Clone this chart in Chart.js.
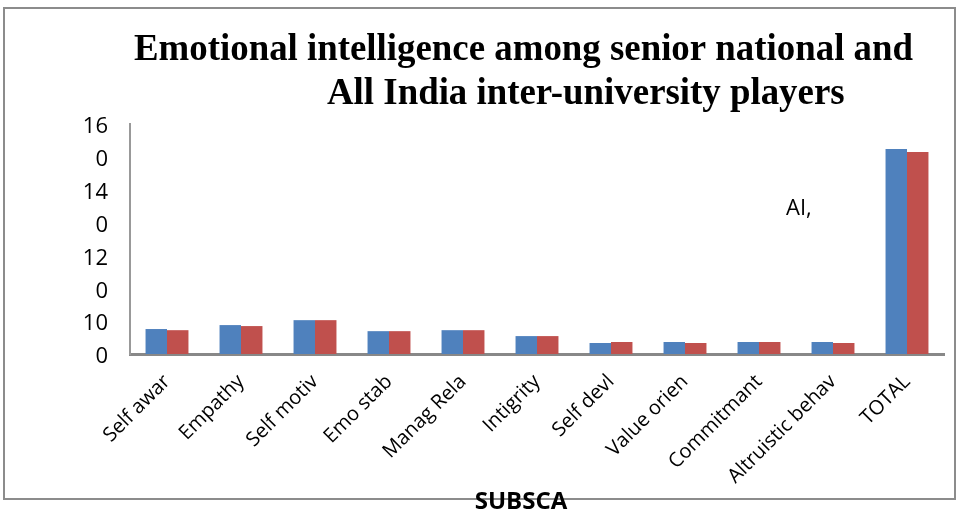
<!DOCTYPE html>
<html>
<head>
<meta charset="utf-8">
<script src="https://cdn.jsdelivr.net/npm/chart.js@4.4.0/dist/chart.umd.min.js"></script>
<style>
  html, body { margin: 0; padding: 0; background: #ffffff; }
  #wrap { width: 958px; height: 512px; position: relative; }
</style>
</head>
<body>
<div id="wrap"><canvas id="c" width="958" height="512"></canvas></div>
<script>
const categories = ['Self awar','Empathy','Self motiv','Emo stab','Manag Rela','Intigrity','Self devl','Value orien','Commitmant','Altruistic behav','TOTAL'];
const seniorNational = [15.2, 17.6, 20.6, 13.9, 14.5, 10.9, 6.7, 7.3, 7.3, 7.3, 124.8];
const interUniversity = [14.5, 17.0, 20.6, 13.9, 14.5, 10.9, 7.3, 6.7, 7.3, 6.7, 123.0];
const yTickLabels = ['0', '10', '0', '12', '0', '14', '0', '16'];
const titleLines = ['Emotional intelligence among senior national and', 'All India inter-university players'];
const xAxisTitle = 'SUBSCA';
const strayLabel = 'AI,';

const decorPlugin = {
  id: 'decor',
  afterDraw(chart) {
    const ctx = chart.ctx;
    ctx.save();
    // outer frame
    ctx.strokeStyle = '#8c8c8c';
    ctx.lineWidth = 2;
    ctx.strokeRect(4, 8, 951, 491);
    // title
    ctx.fillStyle = '#000';
    ctx.font = 'bold 37px "Liberation Serif", "Times New Roman", serif';
    ctx.textBaseline = 'alphabetic';
    ctx.textAlign = 'left';
    const w1 = ctx.measureText(titleLines[0]).width;
    const sx = 779 / w1;
    ctx.save();
    ctx.translate(134, 60);
    ctx.scale(sx, 1);
    ctx.fillText(titleLines[0], 0, 0);
    ctx.restore();
    ctx.save();
    ctx.translate(327, 104);
    ctx.scale(sx, 1);
    ctx.fillText(titleLines[1], 0, 0);
    ctx.restore();
    // stray label
    ctx.font = '22px "Open Sans", sans-serif';
    ctx.fillText(strayLabel, 786, 215);
    // x axis title
    ctx.font = 'bold 24px "Open Sans", sans-serif';
    ctx.textAlign = 'center';
    ctx.fillText(xAxisTitle, 521, 509);
    ctx.restore();
  }
};

new Chart(document.getElementById('c'), {
  type: 'bar',
  data: {
    labels: categories,
    datasets: [
      { label: 'Senior national', data: seniorNational, backgroundColor: '#4F81BD', borderWidth: 0 },
      { label: 'All India inter-university', data: interUniversity, backgroundColor: '#C0504D', borderWidth: 0 }
    ]
  },
  options: {
    responsive: false,
    animation: false,
    devicePixelRatio: 1,
    layout: { padding: { left: 0, right: 14, top: 124, bottom: 0 } },
    plugins: {
      legend: { display: false },
      title: { display: false },
      tooltip: { enabled: false }
    },
    datasets: {
      bar: { categoryPercentage: 0.58, barPercentage: 1.0 }
    },
    scales: {
      x: {
        grid: { display: false, drawTicks: false },
        border: { display: true, color: '#888888', width: 3 },
        ticks: {
          autoSkip: false,
          maxRotation: 45,
          minRotation: 45,
          padding: 16,
          color: '#000',
          font: { family: '"Open Sans", sans-serif', size: 20 }
        },
        afterFit(scale) { scale.height = 158; }
      },
      y: {
        min: 0,
        max: 140,
        grid: { display: false, drawTicks: false },
        border: { display: true, color: '#999999', width: 2 },
        ticks: {
          stepSize: 20,
          padding: 22,
          labelOffset: 3,
          color: '#000',
          font: { family: '"Open Sans", sans-serif', size: 22 },
          callback: (v, i) => yTickLabels[i]
        },
        afterFit(scale) { scale.width = 130; }
      }
    }
  },
  plugins: [decorPlugin]
});
</script>
</body>
</html>
